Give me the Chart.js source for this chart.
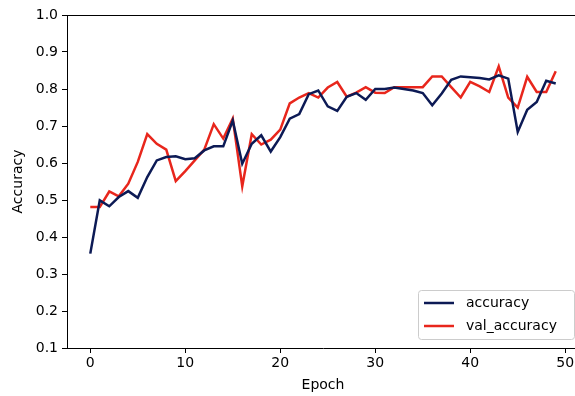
<!DOCTYPE html>
<html>
<head>
<meta charset="utf-8">
<script src="https://cdn.jsdelivr.net/npm/chart.js@4"></script>
<style>
  html, body { margin: 0; padding: 0; background: #fff; overflow: hidden; }
  #wrap { width: 582px; height: 396px; }
</style>
</head>
<body>
<div id="wrap"><canvas id="chart" width="582" height="396"></canvas></div>
<script>
const epochs = Array.from({ length: 50 }, (_, i) => i);
const accuracy = [
  0.355, 0.499, 0.483, 0.508, 0.524, 0.506, 0.562, 0.607, 0.616, 0.618,
  0.610, 0.613, 0.634, 0.645, 0.645, 0.715, 0.598, 0.652, 0.675, 0.631,
  0.670, 0.720, 0.732, 0.786, 0.796, 0.753, 0.741, 0.779, 0.789, 0.771,
  0.800, 0.800, 0.804, 0.800, 0.796, 0.789, 0.756, 0.788, 0.825, 0.834,
  0.832, 0.830, 0.826, 0.837, 0.828, 0.684, 0.744, 0.765, 0.822, 0.815,
];
const valAccuracy = [
  0.481, 0.481, 0.523, 0.510, 0.544, 0.603, 0.678, 0.652, 0.636, 0.551,
  0.578, 0.607, 0.636, 0.705, 0.666, 0.720, 0.537, 0.678, 0.650, 0.663,
  0.690, 0.761, 0.777, 0.789, 0.777, 0.804, 0.819, 0.779, 0.790, 0.805,
  0.790, 0.789, 0.805, 0.805, 0.805, 0.805, 0.834, 0.834, 0.805, 0.777,
  0.819, 0.807, 0.792, 0.861, 0.777, 0.750, 0.833, 0.792, 0.792, 0.848,
];
const xTicks = [0, 10, 20, 30, 40, 50];
const yTicks = [0.1, 0.2, 0.3, 0.4, 0.5, 0.6, 0.7, 0.8, 0.9, 1.0];

const FONT = 'DejaVu Sans';

// matplotlib-like legend box in the lower right, plus the top spine
const mplFrame = {
  id: 'mplFrame',
  afterDraw(chart) {
    const { ctx, chartArea } = chart;
    ctx.save();
    ctx.strokeStyle = '#000';
    ctx.lineWidth = 1;
    ctx.beginPath();
    ctx.moveTo(chartArea.left, chartArea.top + 0.5);
    ctx.lineTo(chartArea.right, chartArea.top + 0.5);
    ctx.moveTo(chartArea.right - 0.5, chartArea.top);
    ctx.lineTo(chartArea.right - 0.5, chartArea.bottom);
    ctx.stroke();

    const boxX = 418, boxY = 290, boxW = 156, boxH = 49;
    ctx.fillStyle = 'rgba(255,255,255,0.85)';
    ctx.strokeStyle = '#cccccc';
    ctx.beginPath();
    ctx.roundRect(boxX + 0.5, boxY + 0.5, boxW, boxH, 3);
    ctx.fill();
    ctx.stroke();

    ctx.font = '14px ' + FONT;
    ctx.textBaseline = 'middle';
    chart.data.datasets.forEach((ds, i) => {
      const y = boxY + 13 + i * 23;
      ctx.strokeStyle = ds.borderColor;
      ctx.lineWidth = 2.5;
      ctx.beginPath();
      ctx.moveTo(boxX + 6, y);
      ctx.lineTo(boxX + 36, y);
      ctx.stroke();
      ctx.fillStyle = '#000';
      ctx.fillText(ds.label, boxX + 48, y);
    });
    ctx.restore();
  },
};

new Chart(document.getElementById('chart'), {
  type: 'line',
  data: {
    datasets: [
      {
        label: 'accuracy',
        data: epochs.map((e, i) => ({ x: e, y: accuracy[i] })),
        borderColor: '#0c1a55',
        borderWidth: 2.5,
        pointRadius: 0,
        tension: 0,
      },
      {
        label: 'val_accuracy',
        data: epochs.map((e, i) => ({ x: e, y: valAccuracy[i] })),
        borderColor: '#e8261c',
        borderWidth: 2.5,
        pointRadius: 0,
        tension: 0,
      },
    ],
  },
  options: {
    responsive: false,
    animation: false,
    events: [],
    layout: { padding: { top: 15, right: 3, left: 10, bottom: 0 } },
    plugins: { legend: { display: false }, tooltip: { enabled: false } },
    scales: {
      x: {
        type: 'linear',
        min: -2.45,
        max: 51.45,
        afterBuildTicks: (scale) => { scale.ticks = xTicks.map((v) => ({ value: v })); },
        afterFit: (scale) => { scale.height = 48; },
        grid: { drawOnChartArea: false, tickLength: 5, tickColor: '#000', tickWidth: 1 },
        border: { color: '#000', width: 1 },
        ticks: { color: '#000', font: { family: FONT, size: 14 }, padding: 2, maxRotation: 0 },
        title: { display: true, text: 'Epoch', color: '#000', font: { family: FONT, size: 14 }, padding: { top: 0, bottom: 2 } },
      },
      y: {
        min: 0.1,
        max: 1.0,
        afterBuildTicks: (scale) => { scale.ticks = yTicks.map((v) => ({ value: v })); },
        afterFit: (scale) => { scale.width = 57; },
        grid: { drawOnChartArea: false, tickLength: 5, tickColor: '#000', tickWidth: 1 },
        border: { color: '#000', width: 1 },
        ticks: { color: '#000', font: { family: FONT, size: 14 }, padding: 4, callback: (v) => v.toFixed(1) },
        title: { display: true, text: 'Accuracy', color: '#000', font: { family: FONT, size: 14 }, padding: { top: 0, bottom: 4 } },
      },
    },
  },
  plugins: [mplFrame],
});
</script>
</body>
</html>
